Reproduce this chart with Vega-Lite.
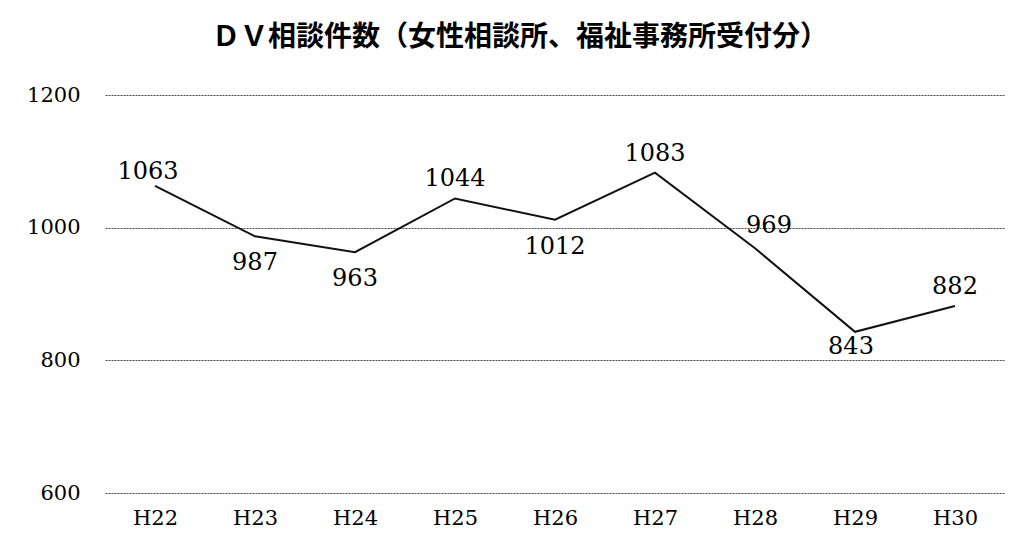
{
  "$schema": "https://vega.github.io/schema/vega-lite/v6.json",
  "autosize": {"type": "none"},
  "width": 900,
  "height": 398,
  "padding": {"left": 105, "top": 95, "right": 19, "bottom": 49},
  "background": "white",
  "title": {
    "text": "ＤＶ相談件数（女性相談所、福祉事務所受付分）",
    "font": "Noto Sans CJK JP",
    "fontSize": 28,
    "fontWeight": "bold",
    "color": "#000000",
    "anchor": "middle",
    "dx": -35,
    "offset": 32
  },
  "data": {
    "values": [
      {"year": "H22", "count": 1063},
      {"year": "H23", "count": 987},
      {"year": "H24", "count": 963},
      {"year": "H25", "count": 1044},
      {"year": "H26", "count": 1012},
      {"year": "H27", "count": 1083},
      {"year": "H28", "count": 969},
      {"year": "H29", "count": 843},
      {"year": "H30", "count": 882}
    ]
  },
  "encoding": {
    "x": {
      "field": "year",
      "type": "ordinal",
      "sort": null,
      "scale": {"paddingInner": 0, "paddingOuter": 0},
      "axis": {
        "title": null,
        "labelAngle": 0,
        "labelFont": "DejaVu Serif",
        "labelFontSize": 21,
        "labelColor": "#000000",
        "labelPadding": 14,
        "ticks": false,
        "domain": false,
        "grid": false
      }
    },
    "y": {
      "field": "count",
      "type": "quantitative",
      "scale": {"domain": [600, 1200], "nice": false, "zero": false},
      "axis": {
        "title": null,
        "values": [600, 800, 1000, 1200],
        "format": "d",
        "labelFont": "DejaVu Serif",
        "labelFontSize": 21,
        "labelColor": "#000000",
        "labelPadding": 25,
        "ticks": false,
        "domain": false,
        "grid": true,
        "gridColor": "#444444",
        "gridDash": [2, 1],
        "gridWidth": 1
      }
    }
  },
  "layer": [
    {
      "mark": {"type": "line", "color": "#111111", "strokeWidth": 2}
    },
    {
      "transform": [{"filter": {"field": "year", "oneOf": ["H22"]}}],
      "mark": {"type": "text", "font": "DejaVu Serif", "fontSize": 24, "color": "#000000", "dx": -7, "dy": -14},
      "encoding": {"text": {"field": "count", "type": "quantitative", "format": "d"}}
    },
    {
      "transform": [{"filter": {"field": "year", "oneOf": ["H25", "H27", "H30"]}}],
      "mark": {"type": "text", "font": "DejaVu Serif", "fontSize": 24, "color": "#000000", "dy": -19},
      "encoding": {"text": {"field": "count", "type": "quantitative", "format": "d"}}
    },
    {
      "transform": [{"filter": {"field": "year", "oneOf": ["H23", "H24", "H26"]}}],
      "mark": {"type": "text", "font": "DejaVu Serif", "fontSize": 24, "color": "#000000", "dy": 27},
      "encoding": {"text": {"field": "count", "type": "quantitative", "format": "d"}}
    },
    {
      "transform": [{"filter": {"field": "year", "oneOf": ["H29"]}}],
      "mark": {"type": "text", "font": "DejaVu Serif", "fontSize": 24, "color": "#000000", "dx": -4, "dy": 15},
      "encoding": {"text": {"field": "count", "type": "quantitative", "format": "d"}}
    },
    {
      "transform": [{"filter": {"field": "year", "oneOf": ["H28"]}}],
      "mark": {"type": "text", "font": "DejaVu Serif", "fontSize": 24, "color": "#000000", "dx": 14, "dy": -22},
      "encoding": {"text": {"field": "count", "type": "quantitative", "format": "d"}}
    }
  ],
  "config": {"view": {"stroke": null}}
}
